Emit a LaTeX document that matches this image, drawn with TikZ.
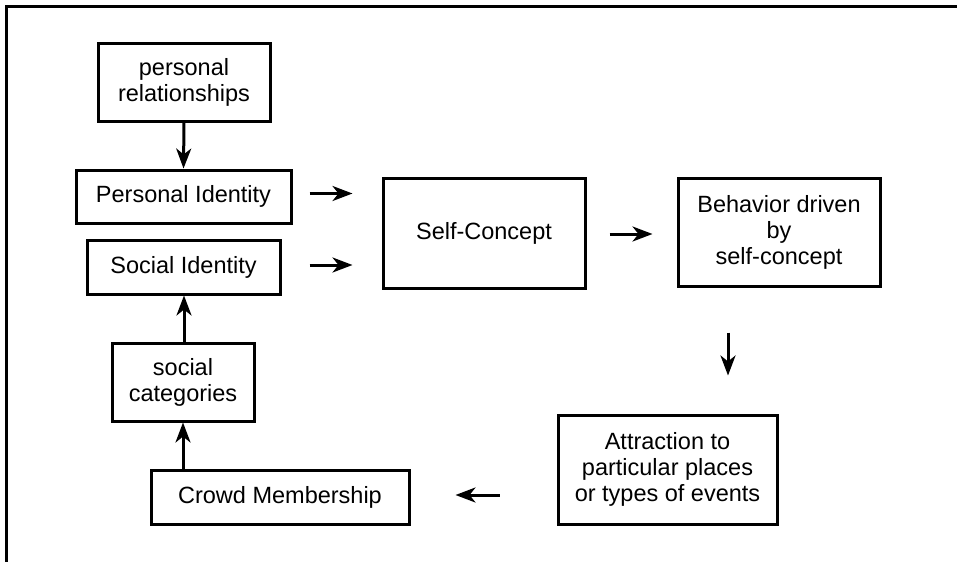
\documentclass[tikz,border=0pt]{standalone}
\usepackage{fontspec}
\setmainfont{Liberation Sans}
\usetikzlibrary{arrows.meta}
\begin{document}
\begin{tikzpicture}[x=1pt,y=-1pt,
  box/.style={draw,line width=3pt,align=center,inner sep=0pt,
    font=\fontsize{23.5}{26}\selectfont},
  arr/.style={line width=3pt,-{Stealth[length=20pt,width=15pt,inset=6pt]}}]
\useasboundingbox (0,0) rectangle (957,562);
\draw[line width=3pt] (957,6) -- (6,6) -- (6,562);
% boxes: center, width, height
\node[box,minimum width=172pt,minimum height=78pt] (pr) at (184,82) {personal\\relationships};
\node[box,minimum width=215pt,minimum height=53pt] (pi) at (183.5,196.5) {Personal Identity};
\node[box,minimum width=193pt,minimum height=54pt] (si) at (183.5,267) {Social Identity};
\node[box,minimum width=142pt,minimum height=78pt] (sc) at (183,382) {social\\categories};
\node[box,minimum width=258pt,minimum height=54pt] (cm) at (280,497) {Crowd Membership};
\node[box,minimum width=202pt,minimum height=110pt] (self) at (484,233) {Self-Concept};
\node[box,minimum width=202pt,minimum height=108pt] (beh) at (779,232) {Behavior driven\\by\\self-concept};
\node[box,minimum width=219pt,minimum height=109pt] (att) at (667.5,469.5) {Attraction to\\particular places\\or types of events};
% connectors
\draw[arr] (pr.south) -- (pi.north);
\draw[arr,shorten <=17pt,shorten >=29pt] ([yshift=3pt]pi.east) -- ([yshift=3pt]pi.east -| self.west);
\draw[arr,shorten <=28pt,shorten >=29pt] ([yshift=2pt]si.east) -- ([yshift=2pt]si.east -| self.west);
\draw[arr,shorten <=23pt,shorten >=24pt] ([yshift=-1pt]self.east) -- ([yshift=-1pt]self.east -| beh.west);
\draw[arr,shorten <=45pt,shorten >=38pt] (728,0 |- beh.south) -- (728,0 |- att.north);
\draw[arr,shorten <=57pt,shorten >=45pt] ([yshift=2pt]att.west |- cm.east) -- ([yshift=2pt]cm.east);
\draw[arr] (cm.north -| sc.south) -- (sc.south);
\draw[arr] ([xshift=1pt]sc.north) -- ([xshift=1pt]sc.north |- si.south);
\end{tikzpicture}
\end{document}
